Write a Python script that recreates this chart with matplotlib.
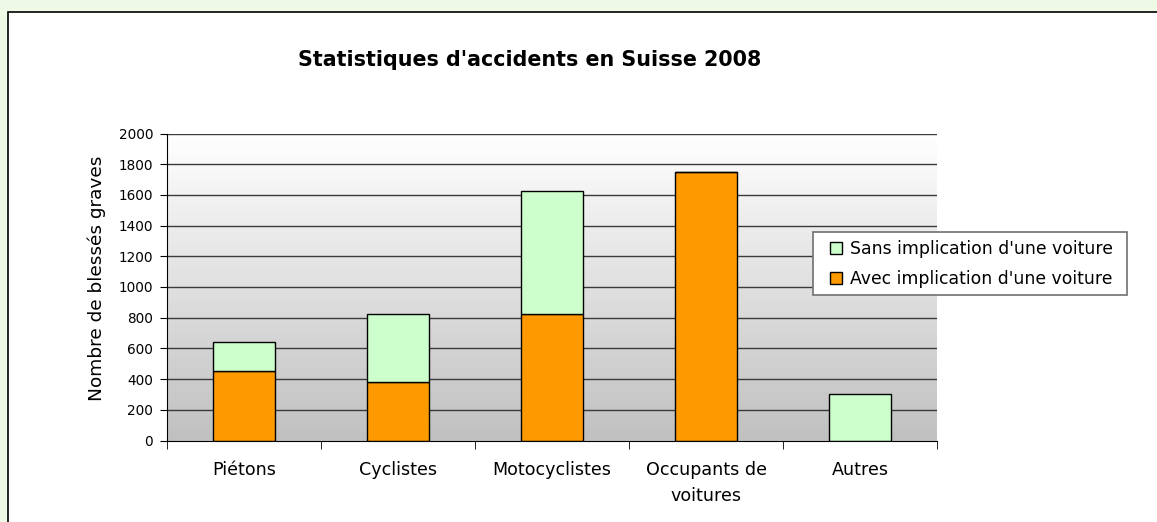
import numpy as np
import matplotlib
matplotlib.use('Agg')
import matplotlib.pyplot as plt
from matplotlib.patches import Rectangle

categories = ['Piétons', 'Cyclistes', 'Motocyclistes', 'Occupants de\nvoitures', 'Autres']
avec_voiture = [455, 382, 821, 1748, 0]
sans_voiture = [185, 440, 803, 0, 300]
y_ticks = list(range(0, 2001, 200))

plt.rcParams['font.family'] = ['DejaVu Sans']

fig = plt.figure(figsize=(11.57, 5.22), dpi=100)
fig.patch.set_facecolor('#eefae6')

# white chart frame with black border
frame = Rectangle((8 / 1157, -0.05), 1.1, 0.05 + 1 - 12 / 522, transform=fig.transFigure,
                  facecolor='white', edgecolor='black', linewidth=1.2, zorder=-1)
fig.patches.append(frame)

ax = fig.add_axes([167 / 1157, 1 - 440.5 / 522, 770 / 1157, 307 / 522])
ax.set_zorder(2)
ax.set_facecolor('none')

x = np.arange(len(categories))
ax.set_xlim(-0.5, len(categories) - 0.5)
ax.set_ylim(0, 2000)

# vertical gradient white -> grey behind the plot
grad = np.linspace(0, 1, 256).reshape(-1, 1)
ax.imshow(grad, cmap=matplotlib.colors.LinearSegmentedColormap.from_list('g', ['#c0c0c0', '#ffffff']),
          extent=[0, 1, 0, 1], transform=ax.transAxes, aspect='auto', origin='lower', zorder=0)

for t in y_ticks[1:]:
    ax.axhline(t, color='#3a3a3a', linewidth=1, zorder=1)

b1 = ax.bar(x, avec_voiture, width=0.4, color='#ff9900', edgecolor='black', linewidth=1, zorder=3,
            label="Avec implication d'une voiture")
b2 = ax.bar(x, sans_voiture, width=0.4, bottom=avec_voiture, color='#ccffcc', edgecolor='black',
            linewidth=1, zorder=3, label="Sans implication d'une voiture")

for s in ['top', 'right']:
    ax.spines[s].set_visible(False)
ax.spines['left'].set_zorder(4)
ax.spines['bottom'].set_zorder(4)

ax.set_yticks(y_ticks)
ax.tick_params(axis='y', direction='out', length=5, labelsize=9.8, pad=5)
ax.set_xticks(x)
ax.set_xticklabels(categories, fontsize=12.6, linespacing=1.55)
ax.set_xticks(np.arange(-0.5, len(categories)), minor=True)
ax.tick_params(axis='x', which='major', length=0, pad=15)
ax.tick_params(axis='x', which='minor', direction='out', length=6)

ax.set_ylabel('Nombre de blessés graves', fontsize=13.3)
ax.yaxis.set_label_coords(-0.079, 0.528)

fig.text(530 / 1157, 1 - 60 / 522, "Statistiques d'accidents en Suisse 2008",
         ha='center', va='center', fontsize=14.9, fontweight='bold')

# legend box drawn by hand so its padding matches
leg_box = Rectangle((813 / 1157, 1 - 295 / 522), 314 / 1157, 63 / 522, transform=fig.transFigure,
                    facecolor='white', edgecolor='#707070', linewidth=1.2, zorder=4)
fig.patches.append(leg_box)
leg = fig.legend([b2, b1], [b2.get_label(), b1.get_label()], loc='center left',
                 bbox_to_anchor=(830 / 1157, 1 - 264 / 522), frameon=False, borderpad=0,
                 borderaxespad=0, fontsize=12.4, handlelength=0.7, handleheight=0.7,
                 handletextpad=0.45, labelspacing=0.73)
leg.set_zorder(5)

fig.savefig('out.png', dpi=100, facecolor=fig.get_facecolor())
